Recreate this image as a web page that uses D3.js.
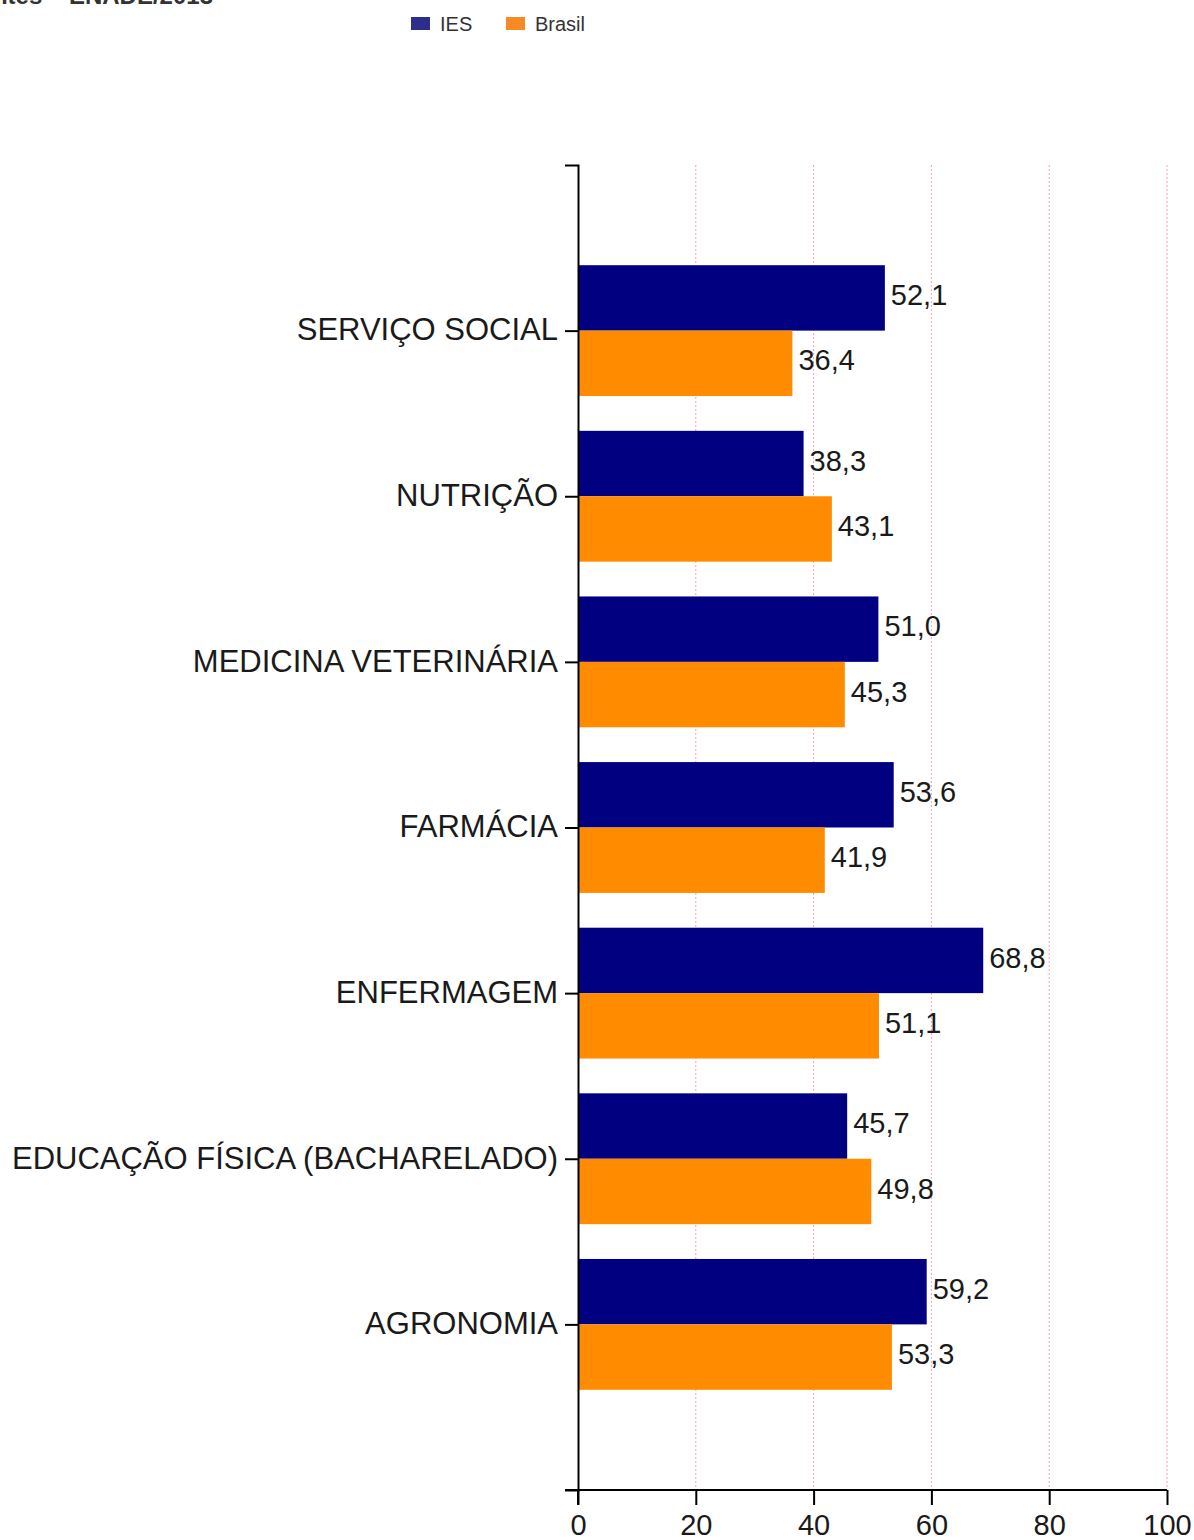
<!DOCTYPE html>
<html lang="pt">
<head>
<meta charset="utf-8">
<title>IES x Brasil</title>
<script src="https://d3js.org/d3.v7.min.js"></script>
<style>
  body { margin: 0; background: #fff; }
  svg { display: block; font-family: "Liberation Sans", Arial, sans-serif; }
  .grid line { stroke: #ff9fb5; stroke-width: 1; stroke-dasharray: 2,2; }
  .axis path, .axis line { stroke: #000; stroke-width: 2; }
  .axis text { fill: #1a1a1a; }
</style>
</head>
<body>
<script>
// data
const categories = ["SERVIÇO SOCIAL", "NUTRIÇÃO", "MEDICINA VETERINÁRIA", "FARMÁCIA",
                    "ENFERMAGEM", "EDUCAÇÃO FÍSICA (BACHARELADO)", "AGRONOMIA"];
const ies    = [52.1, 38.3, 51.0, 53.6, 68.8, 45.7, 59.2];
const brasil = [36.4, 43.1, 45.3, 41.9, 51.1, 49.8, 53.3];
const xTicks = [0, 20, 40, 60, 80, 100];
const seriesNames = ["IES", "Brasil"];

const width = 1194, height = 1540;
const svg = d3.select("body").append("svg")
  .attr("width", width).attr("height", height);

// title, cut off at the top as in the original
svg.append("text")
  .attr("x", 213).attr("y", 4)
  .attr("text-anchor", "end")
  .attr("font-weight", "bold")
  .attr("font-size", 24)
  .attr("fill", "#333")
  .text("Concluintes – ENADE/2013");

// legend
const legendColors = ["#2d2d8c", "#f78a25"];
const legX = [411, 506];
seriesNames.forEach((s, i) => {
  svg.append("rect").attr("x", legX[i]).attr("y", 17).attr("width", 19).attr("height", 13)
    .attr("fill", legendColors[i]);
  svg.append("text").attr("x", legX[i] + 29).attr("y", 31)
    .attr("font-size", 20).attr("fill", "#333").text(s);
});

const x = d3.scaleLinear().domain([0, 100]).range([578, 1167]);
const y = d3.scalePoint().domain(categories).range([165, 1490]).padding(1);
const barH = y.step() * 0.395;

// grid
svg.append("g").attr("class", "grid")
  .selectAll("line").data(xTicks.slice(1)).join("line")
  .attr("x1", d => x(d)).attr("x2", d => x(d))
  .attr("y1", 165).attr("y2", 1490);

// bars
const fmt = v => d3.format(".1f")(v).replace(".", ",");
const rows = categories.map((c, i) => ({ c, ies: ies[i], brasil: brasil[i] }));

const bars = svg.append("g");
bars.selectAll("rect.ies").data(rows).join("rect")
  .attr("class", "ies")
  .attr("x", x(0)).attr("y", d => y(d.c) - barH)
  .attr("width", d => x(d.ies) - x(0)).attr("height", barH)
  .attr("fill", "#000080");
bars.selectAll("rect.br").data(rows).join("rect")
  .attr("class", "br")
  .attr("x", x(0)).attr("y", d => y(d.c))
  .attr("width", d => x(d.brasil) - x(0)).attr("height", barH)
  .attr("fill", "#ff8c00");

// value labels
const lab = svg.append("g").attr("font-size", 29).attr("fill", "#1a1a1a");
lab.selectAll("text.vi").data(rows).join("text")
  .attr("x", d => x(d.ies) + 6).attr("y", d => y(d.c) - barH / 2 - 3)
  .attr("dy", "0.35em").text(d => fmt(d.ies));
lab.selectAll("text.vb").data(rows).join("text")
  .attr("x", d => x(d.brasil) + 6).attr("y", d => y(d.c) + barH / 2 - 3)
  .attr("dy", "0.35em").text(d => fmt(d.brasil));

// y axis
const yAxis = svg.append("g").attr("class", "axis")
  .attr("transform", `translate(${x(0)},0)`)
  .call(d3.axisLeft(y).tickSizeInner(13).tickSizeOuter(13).tickPadding(7));
yAxis.selectAll("text").attr("font-size", 31).attr("dy", "0.3em");
// extend y axis line below to the 0 tick
yAxis.append("line").attr("x1", 0).attr("x2", 0).attr("y1", 1490).attr("y2", 1505);

// x axis
const xAxis = svg.append("g").attr("class", "axis")
  .attr("transform", "translate(0,1490)")
  .call(d3.axisBottom(x).tickValues(xTicks).tickSizeInner(15).tickSizeOuter(0).tickPadding(9));
xAxis.select(".domain").attr("d", `M565,0H${x(100)}`);
xAxis.selectAll("text").attr("font-size", 29);
</script>
</body>
</html>
